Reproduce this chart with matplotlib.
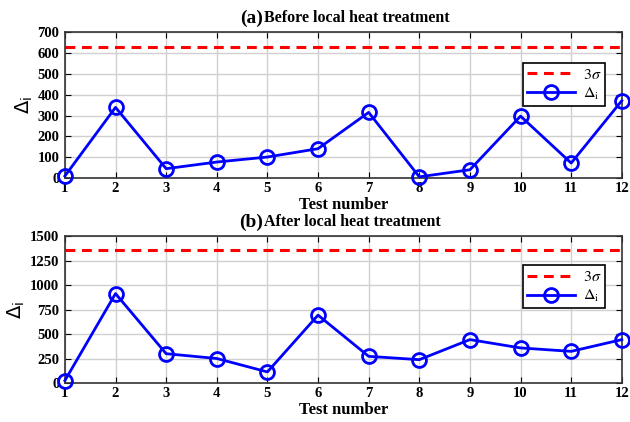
import matplotlib.pyplot as plt
import numpy as np

plt.rcParams["mathtext.fontset"] = "stix"

tests = np.arange(1, 13)
delta_before = [10, 339, 45, 77, 101, 141, 315, 6, 40, 297, 72, 371]
sigma3_before = 630
delta_after = [27, 915, 301, 252, 115, 695, 274, 240, 445, 360, 325, 445]
sigma3_after = 1360

yticks_before = [0, 100, 200, 300, 400, 500, 600, 700]
yticks_after = [0, 250, 500, 750, 1000, 1250, 1500]

serif = "Liberation Serif"
fig = plt.figure(figsize=(6.3, 4.22), dpi=100)


def panel(rect, delta, sigma3, yticks, tag, title, leg_top):
    ax = fig.add_axes(rect)
    ax.axhline(sigma3, color="red", ls=(0, (3.2, 2.2)), lw=2.2, label=r"$3\sigma$")
    ax.plot(tests, delta, color="blue", lw=2, marker="o", ms=10, mfc="none",
            mew=2, clip_on=False, zorder=5, label=r"$\Delta_\mathrm{i}$")
    ax.set_xlim(1, 12)
    ax.set_ylim(yticks[0], yticks[-1])
    ax.set_xticks(tests)
    ax.set_yticks(yticks)
    ax.grid(True, color="#d0d0d0", lw=1)
    ax.tick_params(direction="in", top=True, right=True, length=4)
    ax.tick_params(axis="y", pad=4)
    ax.tick_params(axis="x", pad=3)
    for lab in ax.get_xticklabels() + ax.get_yticklabels():
        lab.set_fontfamily(serif)
        lab.set_fontweight("bold")
        lab.set_fontsize(10.5)
    for s in ax.spines.values():
        s.set_color("#333333")
        s.set_linewidth(1.2)
    ax.set_xlabel("Test number", fontfamily=serif, fontweight="bold", fontsize=12, labelpad=1)
    ax.set_ylabel(r"$\Delta_\mathrm{i}$", fontsize=14, labelpad=2,
                  math_fontfamily="dejavusans")
    leg = ax.legend(loc="upper right", bbox_to_anchor=(0.985, leg_top), fancybox=False,
                    edgecolor="black", framealpha=1, fontsize=11.5, handlelength=3.0,
                    handletextpad=0.5, borderpad=0.25, labelspacing=0.25)
    leg.get_frame().set_linewidth(1.2)
    ytop = rect[1] + rect[3]
    fig.text(0.417, ytop + 0.012, tag, ha="right", va="bottom", fontfamily=serif,
             fontweight="bold", fontsize=14)
    fig.text(0.419, ytop + 0.014, title, ha="left", va="bottom", fontfamily=serif,
             fontweight="bold", fontsize=11.5)
    return ax


panel([0.103, 0.578, 0.884, 0.346], delta_before, sigma3_before, yticks_before,
      "(a)", "Before local heat treatment", 0.845)
panel([0.103, 0.092, 0.884, 0.348], delta_after, sigma3_after, yticks_after,
      "(b)", "After local heat treatment", 0.857)

fig.savefig("out.png", dpi=100)
